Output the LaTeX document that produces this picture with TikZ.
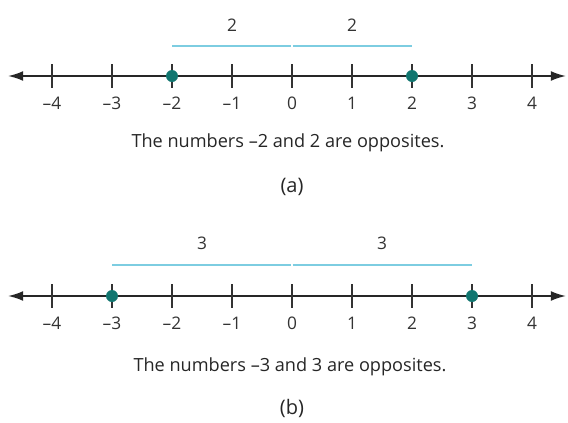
\documentclass[tikz,border=0pt]{standalone}
\usepackage{fontspec}
\setmainfont{Open Sans}
\usetikzlibrary{positioning,arrows.meta}
\definecolor{dotteal}{RGB}{18,118,112}
\definecolor{brk}{RGB}{125,205,225}
\tikzset{
  axis/.style={{Latex[length=4mm,width=2.6mm]}-{Latex[length=4mm,width=2.6mm]},line width=1.3pt,black!85},
  tickmark/.style={line width=0.8pt,black!80},
  num/.style={font=\fontsize{13}{15}\selectfont,text=black!80},
  captxt/.style={font=\fontsize{13.6}{16}\selectfont,text=black!85},
  part/.style={font=\fontsize{15}{17}\selectfont,text=black!85},
  dot/.style={circle,fill=dotteal,inner sep=0pt,minimum size=9pt},
  brace/.style={brk,line width=0.9pt}
}
\newcommand{\numlab}[1]{\ifnum#1<0 –\the\numexpr-#1\relax\else#1\fi}

\begin{document}
\begin{tikzpicture}[x=0.75pt,y=-0.75pt]
  \useasboundingbox (0,0) rectangle (568,422);
  % (a)
  \coordinate (aL) at (8,76);
  \coordinate (aR) at (566,76);
  \draw[axis] (aL) -- (aR);
  \foreach \n [count=\i] in {-4,...,4}{
    \draw[tickmark] (292+60*\n,64) -- (292+60*\n,88);
    \node[num] (a\i) at (292+60*\n,103) {\numlab{\n}};
  }
  \node[dot] (pa) at (a3 |- aL) {};
  \node[dot] (qa) at (a7 |- aL) {};
  \coordinate (za) at (292,46);
  \draw[brace] (pa |- za) -- ([xshift=-0.5pt]za);
  \draw[brace] ([xshift=0.5pt]za) -- (qa |- za);
  \node[num] (da1) at (232,25) {2};
  \node[num] (da2) at (352,25) {2};
  \node[captxt] (capa) at (288,143) {The numbers –2 and 2 are opposites.};
  \node[part] (lba) at (292,187) {(a)};
  % (b)
  \coordinate (bL) at (8,296);
  \coordinate (bR) at (566,296);
  \draw[axis] (bL) -- (bR);
  \foreach \n [count=\i] in {-4,...,4}{
    \draw[tickmark] (292+60*\n,284) -- (292+60*\n,308);
    \node[num] (b\i) at (292+60*\n,323) {\numlab{\n}};
  }
  \node[dot] (pb) at (b2 |- bL) {};
  \node[dot] (qb) at (b8 |- bL) {};
  \coordinate (zb) at (292,265);
  \draw[brace] (pb |- zb) -- ([xshift=-0.5pt]zb);
  \draw[brace] ([xshift=0.5pt]zb) -- (qb |- zb);
  \node[num] (db1) at (202,243) {3};
  \node[num] (db2) at (382,243) {3};
  \node[captxt] (capb) at (290,367) {The numbers –3 and 3 are opposites.};
  \node[part] (lbb) at (292,408) {(b)};
\end{tikzpicture}
\end{document}
